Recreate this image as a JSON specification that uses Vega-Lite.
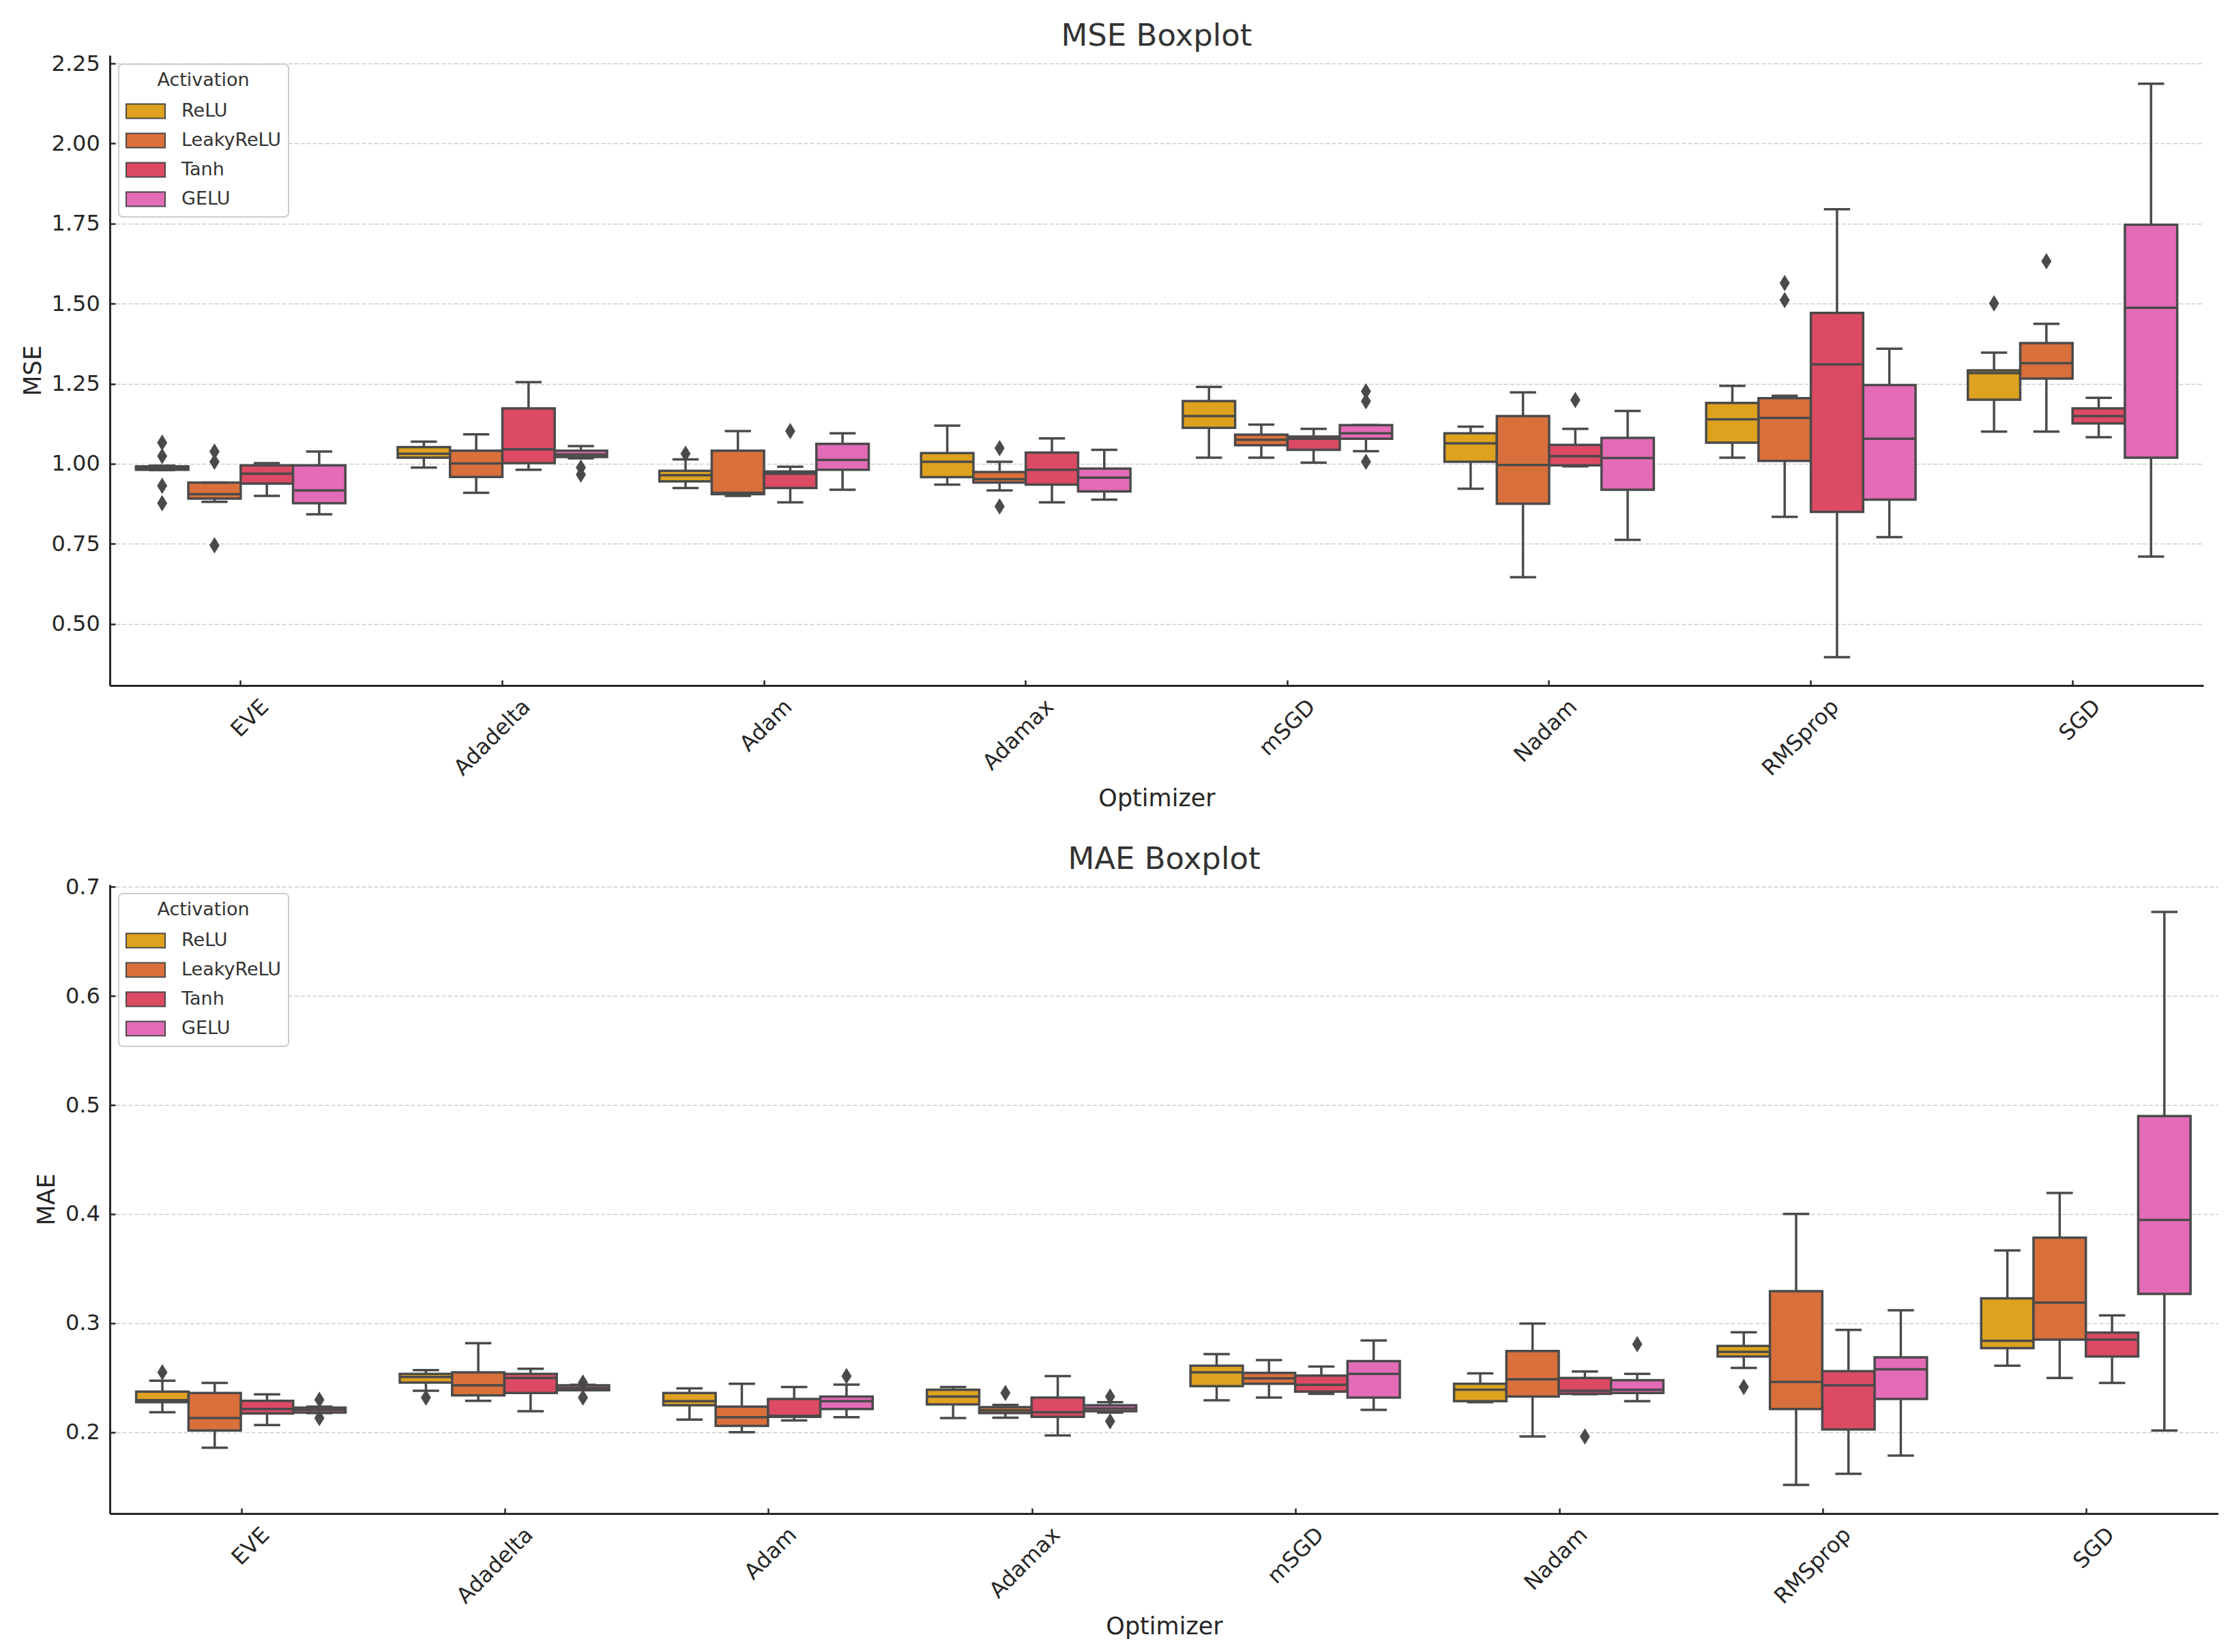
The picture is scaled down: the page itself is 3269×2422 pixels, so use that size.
{
  "$schema": "https://vega.github.io/schema/vega-lite/v6.json",
  "background": "white",
  "padding": {"left": 31, "top": 31, "right": 0, "bottom": 0},
  "spacing": 49,
  "resolve": {"scale": {"color": "independent"}, "legend": {"color": "independent"}},
  "config": {
    "font": "DejaVu Sans",
    "view": {"stroke": null},
    "axis": {
      "domainColor": "#262626", "domainWidth": 3,
      "tickColor": "#262626", "tickWidth": 2.5, "tickSize": -8,
      "labelFont": "DejaVu Sans", "labelFontSize": 32, "labelColor": "#262626",
      "titleFont": "DejaVu Sans", "titleFontSize": 35, "titleFontWeight": "normal", "titleColor": "#262626"
    },
    "legend": {
      "fillColor": "white", "strokeColor": "#cccccc", "strokeWidth": 2, "cornerRadius": 6,
      "padding": 11, "offset": 13, "orient": "top-left",
      "titleFont": "DejaVu Sans", "titleFontSize": 27, "titleFontWeight": "normal", "titleColor": "#333333",
      "titleAnchor": "middle", "titlePadding": 10,
      "labelFont": "DejaVu Sans", "labelFontSize": 27, "labelColor": "#333333", "labelOffset": 39,
      "symbolType": "M-1.05,-0.525H1.8V0.525H-1.05Z", "symbolSize": 1600,
      "symbolStrokeColor": "#4a4a4a", "symbolStrokeWidth": 2, "symbolOpacity": 1,
      "rowPadding": 7
    },
    "title": {"font": "DejaVu Sans", "fontSize": 45, "fontWeight": "normal", "color": "#333333", "anchor": "middle", "frame": "group", "offset": 1}
  },
  "datasets": {
    "mse": [
      {"opt": "EVE", "act": "ReLU", "lo": 0.980, "q1": 0.981, "med": 0.986, "q3": 0.992, "hi": 0.994},
      {"opt": "EVE", "act": "LeakyReLU", "lo": 0.881, "q1": 0.891, "med": 0.905, "q3": 0.941, "hi": 0.941},
      {"opt": "EVE", "act": "Tanh", "lo": 0.8995, "q1": 0.938, "med": 0.969, "q3": 0.995, "hi": 1.002},
      {"opt": "EVE", "act": "GELU", "lo": 0.842, "q1": 0.877, "med": 0.9166, "q3": 0.995, "hi": 1.038},
      {"opt": "Adadelta", "act": "ReLU", "lo": 0.988, "q1": 1.019, "med": 1.031, "q3": 1.052, "hi": 1.069},
      {"opt": "Adadelta", "act": "LeakyReLU", "lo": 0.9095, "q1": 0.959, "med": 1.0007, "q3": 1.041, "hi": 1.092},
      {"opt": "Adadelta", "act": "Tanh", "lo": 0.981, "q1": 1.002, "med": 1.045, "q3": 1.173, "hi": 1.2546},
      {"opt": "Adadelta", "act": "GELU", "lo": 1.017, "q1": 1.021, "med": 1.029, "q3": 1.041, "hi": 1.055},
      {"opt": "Adam", "act": "ReLU", "lo": 0.924, "q1": 0.945, "med": 0.964, "q3": 0.978, "hi": 1.0136},
      {"opt": "Adam", "act": "LeakyReLU", "lo": 0.8995, "q1": 0.905, "med": 0.909, "q3": 1.041, "hi": 1.102},
      {"opt": "Adam", "act": "Tanh", "lo": 0.8795, "q1": 0.924, "med": 0.969, "q3": 0.976, "hi": 0.9907},
      {"opt": "Adam", "act": "GELU", "lo": 0.919, "q1": 0.981, "med": 1.012, "q3": 1.062, "hi": 1.095},
      {"opt": "Adamax", "act": "ReLU", "lo": 0.935, "q1": 0.958, "med": 1.006, "q3": 1.0335, "hi": 1.119},
      {"opt": "Adamax", "act": "LeakyReLU", "lo": 0.9166, "q1": 0.941, "med": 0.952, "q3": 0.974, "hi": 1.006},
      {"opt": "Adamax", "act": "Tanh", "lo": 0.8795, "q1": 0.935, "med": 0.981, "q3": 1.035, "hi": 1.079},
      {"opt": "Adamax", "act": "GELU", "lo": 0.888, "q1": 0.9137, "med": 0.9565, "q3": 0.985, "hi": 1.0435},
      {"opt": "mSGD", "act": "ReLU", "lo": 1.019, "q1": 1.112, "med": 1.149, "q3": 1.196, "hi": 1.240},
      {"opt": "mSGD", "act": "LeakyReLU", "lo": 1.019, "q1": 1.058, "med": 1.075, "q3": 1.0906, "hi": 1.122},
      {"opt": "mSGD", "act": "Tanh", "lo": 1.0036, "q1": 1.0435, "med": 1.078, "q3": 1.085, "hi": 1.109},
      {"opt": "mSGD", "act": "GELU", "lo": 1.039, "q1": 1.078, "med": 1.095, "q3": 1.1205, "hi": 1.1205},
      {"opt": "Nadam", "act": "ReLU", "lo": 0.922, "q1": 1.006, "med": 1.0635, "q3": 1.095, "hi": 1.116},
      {"opt": "Nadam", "act": "LeakyReLU", "lo": 0.6456, "q1": 0.875, "med": 0.996, "q3": 1.149, "hi": 1.223},
      {"opt": "Nadam", "act": "Tanh", "lo": 0.992, "q1": 0.995, "med": 1.0235, "q3": 1.059, "hi": 1.109},
      {"opt": "Nadam", "act": "GELU", "lo": 0.7625, "q1": 0.919, "med": 1.018, "q3": 1.0806, "hi": 1.1647},
      {"opt": "RMSprop", "act": "ReLU", "lo": 1.019, "q1": 1.066, "med": 1.139, "q3": 1.190, "hi": 1.243},
      {"opt": "RMSprop", "act": "LeakyReLU", "lo": 0.834, "q1": 1.009, "med": 1.143, "q3": 1.205, "hi": 1.212},
      {"opt": "RMSprop", "act": "Tanh", "lo": 0.396, "q1": 0.8495, "med": 1.310, "q3": 1.471, "hi": 1.795},
      {"opt": "RMSprop", "act": "GELU", "lo": 0.771, "q1": 0.888, "med": 1.078, "q3": 1.246, "hi": 1.359},
      {"opt": "SGD", "act": "ReLU", "lo": 1.1006, "q1": 1.200, "med": 1.283, "q3": 1.2916, "hi": 1.347},
      {"opt": "SGD", "act": "LeakyReLU", "lo": 1.1006, "q1": 1.266, "med": 1.314, "q3": 1.377, "hi": 1.437},
      {"opt": "SGD", "act": "Tanh", "lo": 1.083, "q1": 1.126, "med": 1.149, "q3": 1.173, "hi": 1.206},
      {"opt": "SGD", "act": "GELU", "lo": 0.71, "q1": 1.019, "med": 1.487, "q3": 1.7466, "hi": 2.187}
    ],
    "mse_out": [
      {"opt": "EVE", "act": "ReLU", "v": 1.066},
      {"opt": "EVE", "act": "ReLU", "v": 1.0235},
      {"opt": "EVE", "act": "ReLU", "v": 0.931},
      {"opt": "EVE", "act": "ReLU", "v": 0.877},
      {"opt": "EVE", "act": "LeakyReLU", "v": 1.038},
      {"opt": "EVE", "act": "LeakyReLU", "v": 1.006},
      {"opt": "EVE", "act": "LeakyReLU", "v": 0.745},
      {"opt": "Adadelta", "act": "GELU", "v": 0.988},
      {"opt": "Adadelta", "act": "GELU", "v": 0.966},
      {"opt": "Adam", "act": "ReLU", "v": 1.031},
      {"opt": "Adam", "act": "Tanh", "v": 1.102},
      {"opt": "Adamax", "act": "LeakyReLU", "v": 1.049},
      {"opt": "Adamax", "act": "LeakyReLU", "v": 0.8667},
      {"opt": "mSGD", "act": "GELU", "v": 1.226},
      {"opt": "mSGD", "act": "GELU", "v": 1.195},
      {"opt": "mSGD", "act": "GELU", "v": 1.006},
      {"opt": "Nadam", "act": "Tanh", "v": 1.199},
      {"opt": "RMSprop", "act": "LeakyReLU", "v": 1.564},
      {"opt": "RMSprop", "act": "LeakyReLU", "v": 1.511},
      {"opt": "SGD", "act": "ReLU", "v": 1.501},
      {"opt": "SGD", "act": "LeakyReLU", "v": 1.6325}
    ],
    "mae": [
      {"opt": "EVE", "act": "ReLU", "lo": 0.2184, "q1": 0.2276, "med": 0.2295, "q3": 0.2373, "hi": 0.2473},
      {"opt": "EVE", "act": "LeakyReLU", "lo": 0.1858, "q1": 0.2017, "med": 0.213, "q3": 0.236, "hi": 0.2452},
      {"opt": "EVE", "act": "Tanh", "lo": 0.2067, "q1": 0.2172, "med": 0.2214, "q3": 0.2289, "hi": 0.2348},
      {"opt": "EVE", "act": "GELU", "lo": 0.2175, "q1": 0.218, "med": 0.2205, "q3": 0.2225, "hi": 0.2235},
      {"opt": "Adadelta", "act": "ReLU", "lo": 0.2381, "q1": 0.2456, "med": 0.2507, "q3": 0.2536, "hi": 0.257},
      {"opt": "Adadelta", "act": "LeakyReLU", "lo": 0.2289, "q1": 0.2339, "med": 0.2431, "q3": 0.2549, "hi": 0.2817},
      {"opt": "Adadelta", "act": "Tanh", "lo": 0.2193, "q1": 0.236, "med": 0.2498, "q3": 0.2536, "hi": 0.2582},
      {"opt": "Adadelta", "act": "GELU", "lo": 0.2385, "q1": 0.2385, "med": 0.2406, "q3": 0.2431, "hi": 0.2435},
      {"opt": "Adam", "act": "ReLU", "lo": 0.2117, "q1": 0.2247, "med": 0.2285, "q3": 0.236, "hi": 0.2402},
      {"opt": "Adam", "act": "LeakyReLU", "lo": 0.200, "q1": 0.2059, "med": 0.2138, "q3": 0.2235, "hi": 0.2444},
      {"opt": "Adam", "act": "Tanh", "lo": 0.2109, "q1": 0.2142, "med": 0.215, "q3": 0.2306, "hi": 0.2415},
      {"opt": "Adam", "act": "GELU", "lo": 0.2138, "q1": 0.2214, "med": 0.2285, "q3": 0.2327, "hi": 0.2436},
      {"opt": "Adamax", "act": "ReLU", "lo": 0.213, "q1": 0.2255, "med": 0.2327, "q3": 0.239, "hi": 0.2415},
      {"opt": "Adamax", "act": "LeakyReLU", "lo": 0.2134, "q1": 0.2176, "med": 0.2201, "q3": 0.2231, "hi": 0.2251},
      {"opt": "Adamax", "act": "Tanh", "lo": 0.1971, "q1": 0.2142, "med": 0.2184, "q3": 0.2318, "hi": 0.2515},
      {"opt": "Adamax", "act": "GELU", "lo": 0.218, "q1": 0.2193, "med": 0.2218, "q3": 0.2247, "hi": 0.2276},
      {"opt": "mSGD", "act": "ReLU", "lo": 0.2293, "q1": 0.2423, "med": 0.2549, "q3": 0.2611, "hi": 0.2716},
      {"opt": "mSGD", "act": "LeakyReLU", "lo": 0.2318, "q1": 0.2444, "med": 0.2494, "q3": 0.2544, "hi": 0.2662},
      {"opt": "mSGD", "act": "Tanh", "lo": 0.2352, "q1": 0.2373, "med": 0.2435, "q3": 0.2519, "hi": 0.2603},
      {"opt": "mSGD", "act": "GELU", "lo": 0.2205, "q1": 0.2318, "med": 0.2536, "q3": 0.2653, "hi": 0.2842},
      {"opt": "Nadam", "act": "ReLU", "lo": 0.2276, "q1": 0.2285, "med": 0.239, "q3": 0.2444, "hi": 0.254},
      {"opt": "Nadam", "act": "LeakyReLU", "lo": 0.1962, "q1": 0.2327, "med": 0.2486, "q3": 0.2745, "hi": 0.2997},
      {"opt": "Nadam", "act": "Tanh", "lo": 0.235, "q1": 0.2352, "med": 0.2381, "q3": 0.2498, "hi": 0.2557},
      {"opt": "Nadam", "act": "GELU", "lo": 0.2285, "q1": 0.236, "med": 0.239, "q3": 0.2477, "hi": 0.2536},
      {"opt": "RMSprop", "act": "ReLU", "lo": 0.259, "q1": 0.2695, "med": 0.2737, "q3": 0.2791, "hi": 0.2917},
      {"opt": "RMSprop", "act": "LeakyReLU", "lo": 0.1518, "q1": 0.2214, "med": 0.2461, "q3": 0.3294, "hi": 0.4002},
      {"opt": "RMSprop", "act": "Tanh", "lo": 0.1619, "q1": 0.2025, "med": 0.2431, "q3": 0.2561, "hi": 0.2938},
      {"opt": "RMSprop", "act": "GELU", "lo": 0.1786, "q1": 0.2306, "med": 0.2578, "q3": 0.2687, "hi": 0.3118},
      {"opt": "SGD", "act": "ReLU", "lo": 0.2611, "q1": 0.2771, "med": 0.2838, "q3": 0.3227, "hi": 0.3667},
      {"opt": "SGD", "act": "LeakyReLU", "lo": 0.2498, "q1": 0.285, "med": 0.3189, "q3": 0.3784, "hi": 0.4194},
      {"opt": "SGD", "act": "Tanh", "lo": 0.2452, "q1": 0.2695, "med": 0.285, "q3": 0.2913, "hi": 0.3072},
      {"opt": "SGD", "act": "GELU", "lo": 0.2017, "q1": 0.3269, "med": 0.3947, "q3": 0.4898, "hi": 0.677}
    ],
    "mae_out": [
      {"opt": "EVE", "act": "ReLU", "v": 0.2549},
      {"opt": "EVE", "act": "GELU", "v": 0.2297},
      {"opt": "EVE", "act": "GELU", "v": 0.213},
      {"opt": "Adadelta", "act": "ReLU", "v": 0.2318},
      {"opt": "Adadelta", "act": "GELU", "v": 0.2456},
      {"opt": "Adadelta", "act": "GELU", "v": 0.2318},
      {"opt": "Adam", "act": "GELU", "v": 0.2515},
      {"opt": "Adamax", "act": "LeakyReLU", "v": 0.236},
      {"opt": "Adamax", "act": "GELU", "v": 0.2327},
      {"opt": "Adamax", "act": "GELU", "v": 0.210},
      {"opt": "Nadam", "act": "Tanh", "v": 0.1962},
      {"opt": "Nadam", "act": "GELU", "v": 0.2808},
      {"opt": "RMSprop", "act": "ReLU", "v": 0.2415}
    ]
  },
  "vconcat": [
    {
      "title": {"text": "MSE Boxplot"},
      "width": 3069,
      "height": 924,
      "encoding": {
        "x": {
          "field": "opt", "type": "nominal", "title": "Optimizer",
          "sort": ["EVE", "Adadelta", "Adam", "Adamax", "mSGD", "Nadam", "RMSprop", "SGD"],
          "scale": {"paddingInner": 0.2, "paddingOuter": 0.1},
          "axis": {
            "grid": false, "labelAngle": -45, "labelAlign": "right", "labelBaseline": "top",
            "labelPadding": 23, "labelOffset": 25, "titlePadding": 11
          }
        },
        "xOffset": {
          "field": "act", "type": "nominal",
          "sort": ["ReLU", "LeakyReLU", "Tanh", "GELU"],
          "scale": {"paddingInner": 0, "paddingOuter": 0}
        }
      },
      "layer": [
        {
          "data": {"name": "mse"},
          "mark": {"type": "rule", "color": "#4a4a4a", "strokeWidth": 3.5},
          "encoding": {
            "y": {
              "field": "lo", "type": "quantitative", "title": "MSE",
              "scale": {"domain": [0.3075, 2.2757], "nice": false, "zero": false},
              "axis": {
                "grid": true, "gridColor": "#cccccc", "gridDash": [6, 3], "gridWidth": 1.6,
                "values": [0.5, 0.75, 1.0, 1.25, 1.5, 1.75, 2.0, 2.25], "format": ".2f",
                "labelPadding": 22.7, "titlePadding": 9
              }
            },
            "y2": {"field": "q1"}
          }
        },
        {
          "data": {"name": "mse"},
          "mark": {"type": "rule", "color": "#4a4a4a", "strokeWidth": 3.5},
          "encoding": {
            "y": {"field": "q3", "type": "quantitative", "title": "MSE", "scale": {"domain": [0.3075, 2.2757], "nice": false, "zero": false}},
            "y2": {"field": "hi"}
          }
        },
        {
          "data": {"name": "mse"},
          "mark": {"type": "bar", "stroke": "#4a4a4a", "strokeWidth": 3.5, "opacity": 1},
          "encoding": {
            "y": {"field": "q1", "type": "quantitative", "title": "MSE", "scale": {"domain": [0.3075, 2.2757], "nice": false, "zero": false}},
            "y2": {"field": "q3"},
            "color": {
              "field": "act", "type": "nominal", "title": "Activation",
              "sort": ["ReLU", "LeakyReLU", "Tanh", "GELU"],
              "scale": {"domain": ["ReLU", "LeakyReLU", "Tanh", "GELU"], "range": ["#dea21f", "#d9703b", "#dc4a63", "#e46bb6"]}
            }
          }
        },
        {
          "data": {"name": "mse"},
          "mark": {"type": "tick", "color": "#4a4a4a", "thickness": 3.5, "size": 76.7, "opacity": 1},
          "encoding": {
            "y": {"field": "med", "type": "quantitative", "title": "MSE", "scale": {"domain": [0.3075, 2.2757], "nice": false, "zero": false}}
          }
        },
        {
          "data": {"name": "mse"},
          "mark": {"type": "tick", "color": "#4a4a4a", "thickness": 3.5, "size": 38.4, "opacity": 1},
          "encoding": {
            "y": {"field": "lo", "type": "quantitative", "title": "MSE", "scale": {"domain": [0.3075, 2.2757], "nice": false, "zero": false}}
          }
        },
        {
          "data": {"name": "mse"},
          "mark": {"type": "tick", "color": "#4a4a4a", "thickness": 3.5, "size": 38.4, "opacity": 1},
          "encoding": {
            "y": {"field": "hi", "type": "quantitative", "title": "MSE", "scale": {"domain": [0.3075, 2.2757], "nice": false, "zero": false}}
          }
        },
        {
          "data": {"name": "mse_out"},
          "mark": {"type": "point", "shape": "M0,-1L0.62,0L0,1L-0.62,0Z", "filled": true, "size": 576, "color": "#4a4a4a", "opacity": 1},
          "encoding": {
            "y": {"field": "v", "type": "quantitative", "title": "MSE", "scale": {"domain": [0.3075, 2.2757], "nice": false, "zero": false}}
          }
        }
      ]
    },
    {
      "title": {"text": "MAE Boxplot"},
      "width": 3091,
      "height": 922,
      "encoding": {
        "x": {
          "field": "opt", "type": "nominal", "title": "Optimizer",
          "sort": ["EVE", "Adadelta", "Adam", "Adamax", "mSGD", "Nadam", "RMSprop", "SGD"],
          "scale": {"paddingInner": 0.2, "paddingOuter": 0.1},
          "axis": {
            "grid": false, "labelAngle": -45, "labelAlign": "right", "labelBaseline": "top",
            "labelPadding": 23, "labelOffset": 25, "titlePadding": 11
          }
        },
        "xOffset": {
          "field": "act", "type": "nominal",
          "sort": ["ReLU", "LeakyReLU", "Tanh", "GELU"],
          "scale": {"paddingInner": 0, "paddingOuter": 0}
        }
      },
      "layer": [
        {
          "data": {"name": "mae"},
          "mark": {"type": "rule", "color": "#4a4a4a", "strokeWidth": 3.5},
          "encoding": {
            "y": {
              "field": "lo", "type": "quantitative", "title": "MAE",
              "scale": {"domain": [0.1255, 0.702], "nice": false, "zero": false},
              "axis": {
                "grid": true, "gridColor": "#cccccc", "gridDash": [6, 3], "gridWidth": 1.6,
                "values": [0.2, 0.3, 0.4, 0.5, 0.6, 0.7], "format": ".1f",
                "labelPadding": 22.7, "titlePadding": 9
              }
            },
            "y2": {"field": "q1"}
          }
        },
        {
          "data": {"name": "mae"},
          "mark": {"type": "rule", "color": "#4a4a4a", "strokeWidth": 3.5},
          "encoding": {
            "y": {"field": "q3", "type": "quantitative", "title": "MAE", "scale": {"domain": [0.1255, 0.702], "nice": false, "zero": false}},
            "y2": {"field": "hi"}
          }
        },
        {
          "data": {"name": "mae"},
          "mark": {"type": "bar", "stroke": "#4a4a4a", "strokeWidth": 3.5, "opacity": 1},
          "encoding": {
            "y": {"field": "q1", "type": "quantitative", "title": "MAE", "scale": {"domain": [0.1255, 0.702], "nice": false, "zero": false}},
            "y2": {"field": "q3"},
            "color": {
              "field": "act", "type": "nominal", "title": "Activation",
              "sort": ["ReLU", "LeakyReLU", "Tanh", "GELU"],
              "scale": {"domain": ["ReLU", "LeakyReLU", "Tanh", "GELU"], "range": ["#dea21f", "#d9703b", "#dc4a63", "#e46bb6"]}
            }
          }
        },
        {
          "data": {"name": "mae"},
          "mark": {"type": "tick", "color": "#4a4a4a", "thickness": 3.5, "size": 77.3, "opacity": 1},
          "encoding": {
            "y": {"field": "med", "type": "quantitative", "title": "MAE", "scale": {"domain": [0.1255, 0.702], "nice": false, "zero": false}}
          }
        },
        {
          "data": {"name": "mae"},
          "mark": {"type": "tick", "color": "#4a4a4a", "thickness": 3.5, "size": 38.6, "opacity": 1},
          "encoding": {
            "y": {"field": "lo", "type": "quantitative", "title": "MAE", "scale": {"domain": [0.1255, 0.702], "nice": false, "zero": false}}
          }
        },
        {
          "data": {"name": "mae"},
          "mark": {"type": "tick", "color": "#4a4a4a", "thickness": 3.5, "size": 38.6, "opacity": 1},
          "encoding": {
            "y": {"field": "hi", "type": "quantitative", "title": "MAE", "scale": {"domain": [0.1255, 0.702], "nice": false, "zero": false}}
          }
        },
        {
          "data": {"name": "mae_out"},
          "mark": {"type": "point", "shape": "M0,-1L0.62,0L0,1L-0.62,0Z", "filled": true, "size": 576, "color": "#4a4a4a", "opacity": 1},
          "encoding": {
            "y": {"field": "v", "type": "quantitative", "title": "MAE", "scale": {"domain": [0.1255, 0.702], "nice": false, "zero": false}}
          }
        }
      ]
    }
  ]
}
